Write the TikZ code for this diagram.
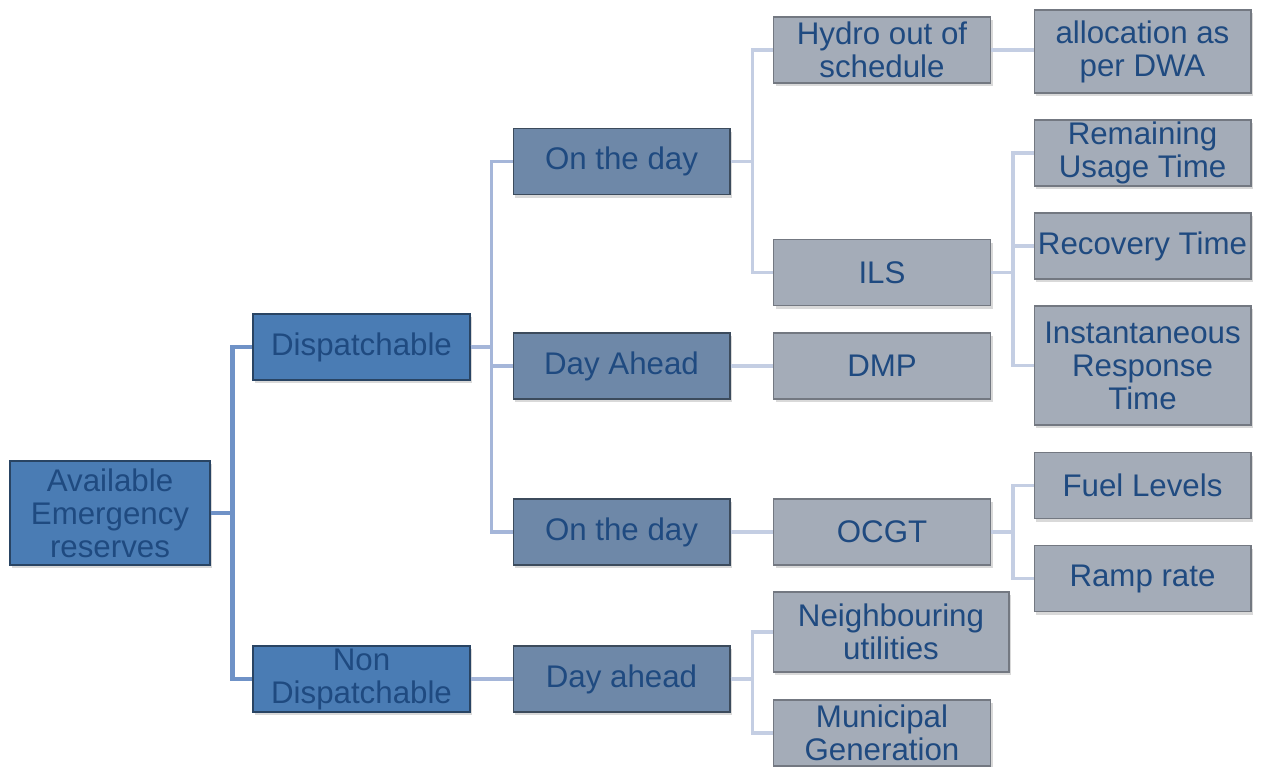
\documentclass[tikz,border=0pt]{standalone}
\usepackage{fontspec}
\setmainfont{Liberation Sans}
\usetikzlibrary{shadows}
\definecolor{aerblue}{HTML}{4A7CB4}
\definecolor{aerslate}{HTML}{6E88A8}
\definecolor{aergray}{HTML}{A4ACB8}
\definecolor{aertext}{HTML}{1F4A80}
\definecolor{aerlinea}{HTML}{6F92C7}
\definecolor{aerlineb}{HTML}{A5B6D9}
\definecolor{aerlinec}{HTML}{C4CEE3}

\begin{document}
\begin{tikzpicture}[
    x=0.02cm, y=-0.02cm,
    font=\fontsize{17.8}{18.8}\selectfont,
    box/.style={
        text=aertext,
        align=center,
        inner sep=0pt,
        minimum width=4.34cm,
        minimum height=1.32cm,
        line width=0.6pt,
        drop shadow={opacity=0.3,shadow xshift=1.2pt,shadow yshift=-1.8pt}
    },
    rootbox/.style={box, fill=aerblue, draw=aerblue!55!black},
    timebox/.style={box, fill=aerslate, draw=aerslate!55!black},
    itembox/.style={box, fill=aergray, draw=aergray!70!black},
    linka/.style={aerlinea, line width=2.4pt},
    linkb/.style={aerlineb, line width=2.2pt},
    linkc/.style={aerlinec, line width=2.2pt}
]
\useasboundingbox (0,0) rectangle (1261,767);

% Root and first split
\node[rootbox, minimum width=4cm, minimum height=2.08cm] (reserves) at (110,513)
    {Available\\Emergency\\reserves};
\node[rootbox] (disp) at (361.5,347) {Dispatchable};
\node[rootbox] (nondisp) at (361.5,679) {Non\\Dispatchable};

% When the reserve is called
\node[timebox] (onday) at (621.5,161.5) {On the day};
\node[timebox] (dayahead) at (621.5,366) {Day Ahead};
\node[timebox] (ondaytwo) at (621.5,532) {On the day};
\node[timebox] (dayaheadnd) at (621.5,679) {Day ahead};

% Reserve sources
\node[itembox] (hydro) at (882,50) {Hydro out of\\schedule};
\node[itembox] (ils) at (882,272.5) {ILS};
\node[itembox] (dmp) at (882,366) {DMP};
\node[itembox] (ocgt) at (882,532) {OCGT};
\node[itembox, minimum width=4.72cm, minimum height=1.6cm] (neighbour) at (891,632)
    {Neighbouring\\utilities};
\node[itembox] (municipal) at (882,733) {Municipal\\Generation};

% Limits of each source
\node[itembox, minimum height=1.66cm] (alloc) at (1142.5,51.5) {allocation as\\per DWA};
\node[itembox] (usage) at (1142.5,153) {Remaining\\Usage Time};
\node[itembox] (recovery) at (1142.5,246) {Recovery Time};
\node[itembox, minimum height=2.38cm] (response) at (1142.5,365.5)
    {Instantaneous\\Response\\Time};
\node[itembox] (fuel) at (1142.5,485.5) {Fuel Levels};
\node[itembox] (ramp) at (1142.5,578.5) {Ramp rate};

% Tree connectors
\draw[linka] (reserves.east) -- ++(22,0) |- (disp.west);
\draw[linka] (reserves.east) -- ++(22,0) |- (nondisp.west);

\foreach \child in {onday,dayahead,ondaytwo}
    \draw[linkb] (disp.east) -- ++(21,0) |- (\child.west);
\draw[linkb] (nondisp.east) -- (dayaheadnd.west);

\foreach \child in {hydro,ils}
    \draw[linkc] (onday.east) -- ++(22,0) |- (\child.west);
\draw[linkc] (dayahead.east) -- (dmp.west);
\draw[linkc] (ondaytwo.east) -- (ocgt.west);
\foreach \child in {neighbour,municipal}
    \draw[linkc] (dayaheadnd.east) -- ++(22,0) |- (\child.west);

\draw[linkc] (hydro.east) -- (alloc.west |- hydro.east);
\foreach \child in {usage,recovery,response}
    \draw[linkc] (ils.east) -- ++(22,0) |- (\child.west);
\foreach \child in {fuel,ramp}
    \draw[linkc] (ocgt.east) -- ++(22,0) |- (\child.west);

\end{tikzpicture}
\end{document}
